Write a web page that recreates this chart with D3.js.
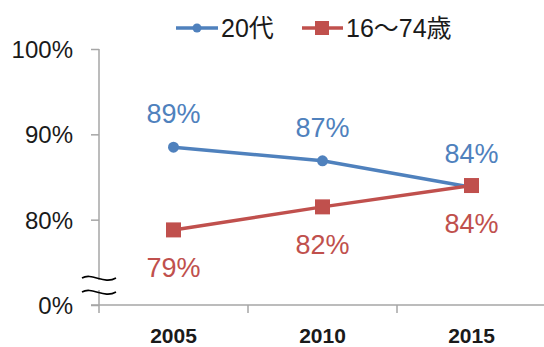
<!DOCTYPE html>
<html>
<head>
<meta charset="utf-8">
<script src="https://cdn.jsdelivr.net/npm/d3@7"></script>
<style>
  body { margin: 0; background: #fff; }
  svg text { font-family: 'Liberation Sans', 'Noto Sans CJK JP', sans-serif; }
</style>
</head>
<body>
<div id="chart"></div>
<script>
const years = ['2005', '2010', '2015'];
const twenties = [88.5, 86.9, 83.8];
const allAges = [78.8, 81.5, 84.0];
const yTicks = [0, 80, 90, 100];
const seriesNames = ['20代', '16～74歳'];

const W = 544, H = 347;
const left = 99, right = 546, axisY = 305;

const svg = d3.select('#chart')
  .append('svg')
  .attr('width', W)
  .attr('height', H);

const x = d3.scaleBand()
  .domain(years)
  .range([left, right])
  .padding(0);

// broken axis: 0%..70% is collapsed onto the baseline
const y = d3.scaleLinear()
  .domain([0, 70, 100])
  .range([axisY, axisY, 49]);

// Y axis
const yAxis = svg.append('g')
  .attr('transform', `translate(${left},0)`)
  .call(d3.axisLeft(y).tickValues(yTicks).tickSize(8).tickPadding(18).tickFormat(d => d + '%'));
yAxis.select('.domain').remove();
yAxis.append('line')
  .attr('x1', 0).attr('x2', 0)
  .attr('y1', y(100)).attr('y2', axisY + 8)
  .attr('stroke', '#a6a6a6').attr('stroke-width', 1.5);
yAxis.selectAll('.tick line').attr('stroke', '#a6a6a6').attr('stroke-width', 1.5);
yAxis.selectAll('.tick text')
  .attr('fill', '#1a1a1a')
  .style('font-size', '24px')
  .attr('dy', '0.36em');

// X axis
const xAxis = svg.append('g')
  .attr('transform', `translate(0,${axisY})`)
  .call(d3.axisBottom(x).tickSize(0).tickPadding(23));
xAxis.select('.domain').remove();
xAxis.append('line')
  .attr('x1', left - 8).attr('x2', W)
  .attr('y1', 0).attr('y2', 0)
  .attr('stroke', '#a6a6a6').attr('stroke-width', 1.5);
xAxis.selectAll('.sep')
  .data(years)
  .enter()
  .append('line')
  .attr('x1', d => x(d) + x.bandwidth()).attr('x2', d => x(d) + x.bandwidth())
  .attr('y1', 0).attr('y2', 8)
  .attr('stroke', '#a6a6a6').attr('stroke-width', 1.5);
xAxis.selectAll('.tick text')
  .attr('fill', '#1a1a1a')
  .style('font-size', '21px')
  .style('font-weight', 'bold');

// Break marks
const brk = svg.append('g');
brk.append('rect')
  .attr('x', left - 3).attr('y', 280).attr('width', 6).attr('height', 10)
  .attr('fill', '#fff');
[278, 292].forEach(yy => {
  brk.append('path')
    .attr('d', `M82,${yy} C92,${yy - 6} 104,${yy + 7} 116,${yy}`)
    .attr('fill', 'none')
    .attr('stroke', '#000')
    .attr('stroke-width', 1.6);
});

const cx = d => x(d) + x.bandwidth() / 2;
const line = d3.line()
  .x(d => cx(d.year))
  .y(d => y(d.value));

const blueData = years.map((yr, i) => ({ year: yr, value: twenties[i] }));
const redData = years.map((yr, i) => ({ year: yr, value: allAges[i] }));

const blue = '#4f81bd', red = '#c0504d';

svg.append('path')
  .datum(blueData)
  .attr('d', line)
  .attr('fill', 'none')
  .attr('stroke', blue)
  .attr('stroke-width', 3.5);
svg.selectAll('.dot')
  .data(blueData)
  .enter()
  .append('circle')
  .attr('cx', d => cx(d.year))
  .attr('cy', d => y(d.value))
  .attr('r', 5.5)
  .attr('fill', blue);

svg.append('path')
  .datum(redData)
  .attr('d', line)
  .attr('fill', 'none')
  .attr('stroke', red)
  .attr('stroke-width', 3.5);
svg.selectAll('.sq')
  .data(redData)
  .enter()
  .append('rect')
  .attr('x', d => cx(d.year) - 7.5)
  .attr('y', d => y(d.value) - 7.5)
  .attr('width', 15)
  .attr('height', 15)
  .attr('fill', red);

// Data labels
svg.selectAll('.lblB')
  .data(blueData)
  .enter()
  .append('text')
  .attr('x', d => cx(d.year))
  .attr('y', d => y(d.value) - 24)
  .attr('text-anchor', 'middle')
  .attr('fill', blue)
  .style('font-size', '27px')
  .text(d => Math.round(d.value) + '%');

svg.selectAll('.lblR')
  .data(redData)
  .enter()
  .append('text')
  .attr('x', d => cx(d.year))
  .attr('y', d => y(d.value) + 47)
  .attr('text-anchor', 'middle')
  .attr('fill', red)
  .style('font-size', '27px')
  .text(d => Math.round(d.value) + '%');

// Legend
const legend = svg.append('g').attr('transform', 'translate(0,28)');
legend.append('line')
  .attr('x1', 176).attr('x2', 218).attr('y1', 0).attr('y2', 0)
  .attr('stroke', blue).attr('stroke-width', 3.5);
legend.append('circle').attr('cx', 197).attr('cy', 0).attr('r', 4.5).attr('fill', blue);
legend.append('text')
  .attr('x', 221).attr('y', 9)
  .attr('fill', '#1a1a1a')
  .style('font-size', '25px')
  .text(seriesNames[0]);

legend.append('line')
  .attr('x1', 302).attr('x2', 343).attr('y1', 0).attr('y2', 0)
  .attr('stroke', red).attr('stroke-width', 3.5);
legend.append('rect').attr('x', 315).attr('y', -7).attr('width', 14).attr('height', 14).attr('fill', red);
legend.append('text')
  .attr('x', 346).attr('y', 9)
  .attr('fill', '#1a1a1a')
  .style('font-size', '25px')
  .text(seriesNames[1]);
</script>
</body>
</html>
